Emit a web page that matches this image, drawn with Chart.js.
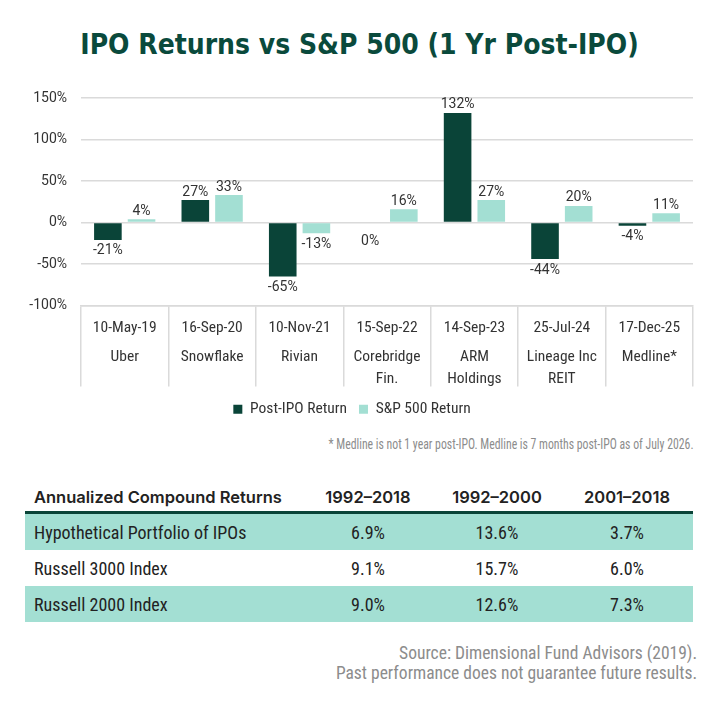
<!DOCTYPE html>
<html>
<head>
<meta charset="utf-8">
<script src="https://cdn.jsdelivr.net/npm/chart.js@4.4.1/dist/chart.umd.min.js"></script>
<style>
  body{margin:0;background:#fff;width:719px;height:722px;position:relative;overflow:hidden;
    font-family:"Roboto Condensed","Liberation Sans Narrow","DejaVu Sans Condensed",sans-serif;color:#222;}
  #title{position:absolute;top:27px;left:0;width:719px;text-align:center;white-space:nowrap;
    font:bold 29px "DejaVu Sans Condensed",sans-serif;color:#0a4a3c;transform:scaleX(0.965);}
  #wrap{position:absolute;top:85px;left:0;width:719px;height:342px;}
  #note{position:absolute;top:436px;right:26px;font-size:14px;color:#8c8c8c;white-space:nowrap;
    transform:scaleX(0.84);transform-origin:right center;}
  #tbl{position:absolute;top:483px;left:25px;width:668px;border-collapse:collapse;table-layout:fixed;}
  #tbl th{font:600 16.5px Inter,sans-serif;color:#222;height:28px;padding:0;text-align:center;
    border-bottom:3px solid #0a4438;white-space:nowrap;}
  #tbl th:first-child,#tbl td:first-child{text-align:left;padding-left:9px;}
  #tbl td{height:36px;padding:0;text-align:center;font-size:18px;color:#222;white-space:nowrap;}
  #tbl tr.alt td{background:#a3dfd3;}
  #src{position:absolute;top:643px;right:22px;text-align:right;font-size:17.5px;line-height:20px;color:#8c8c8c;}
</style>
</head>
<body>
<div id="title">IPO Returns vs S&amp;P 500 (1 Yr Post-IPO)</div>
<div id="wrap"><canvas id="chart"></canvas></div>
<div id="note">* Medline is not 1 year post-IPO. Medline is 7 months post-IPO as of July 2026.</div>
<table id="tbl">
  <colgroup><col style="width:278px"><col style="width:130px"><col style="width:128px"><col style="width:132px"></colgroup>
  <thead><tr></tr></thead><tbody></tbody>
</table>
<div id="src">Source: Dimensional Fund Advisors (2019).<br>Past performance does not guarantee future results.</div>

<script>
// chart data
const ipoDates = ["10-May-19", "16-Sep-20", "10-Nov-21", "15-Sep-22", "14-Sep-23", "25-Jul-24", "17-Dec-25"];
const ipoNames = [["Uber"], ["Snowflake"], ["Rivian"], ["Corebridge", "Fin."], ["ARM", "Holdings"], ["Lineage Inc", "REIT"], ["Medline*"]];
const postIpoReturn = [-21, 27, -65, 0, 132, -44, -4];
const sp500Return = [4, 33, -13, 16, 27, 20, 11];
const yTicks = [-100, -50, 0, 50, 100, 150];

// table data
const tableHeader = ["Annualized Compound Returns", "1992\u20132018", "1992\u20132000", "2001\u20132018"];
const tableRowNames = ["Hypothetical Portfolio of IPOs", "Russell 3000 Index", "Russell 2000 Index"];
const tableCol1 = ["6.9%", "9.1%", "9.0%"];
const tableCol2 = ["13.6%", "15.7%", "12.6%"];
const tableCol3 = ["3.7%", "6.0%", "7.3%"];

const DARK = "#0a4438";
const TEAL = "#a3dfd3";
const TXT = "#333333";
const GRID = "#dadada";
const NARROW = '"Roboto Condensed","Liberation Sans Narrow","DejaVu Sans Condensed",sans-serif';
const REG = 'Roboto,"Liberation Sans",sans-serif';

// build the table
const headRow = document.querySelector("#tbl thead tr");
tableHeader.forEach(h => {
  const th = document.createElement("th");
  th.textContent = h;
  headRow.appendChild(th);
});
const tbody = document.querySelector("#tbl tbody");
tableRowNames.forEach((name, i) => {
  const tr = document.createElement("tr");
  if (i % 2 === 0) tr.className = "alt";
  [name, tableCol1[i], tableCol2[i], tableCol3[i]].forEach(v => {
    const td = document.createElement("td");
    td.textContent = v;
    tr.appendChild(td);
  });
  tbody.appendChild(tr);
});

// value labels at the end of each bar
const barLabels = {
  id: "barLabels",
  afterDatasetsDraw(chart){
    const ctx = chart.ctx;
    ctx.save();
    ctx.font = "14px " + REG;
    ctx.fillStyle = TXT;
    ctx.textAlign = "center";
    ctx.textBaseline = "middle";
    chart.data.datasets.forEach((ds, di) => {
      chart.getDatasetMeta(di).data.forEach((bar, i) => {
        const v = ds.data[i];
        const y = v > 0 ? bar.y - 8 : bar.y + (v === 0 ? 19 : 11);
        ctx.fillText(v + "%", bar.x, y);
      });
    });
    ctx.restore();
  }
};

new Chart(document.getElementById("chart"), {
  type: "bar",
  data: {
    labels: ipoDates,
    datasets: [
      { label: "Post-IPO Return", data: postIpoReturn, backgroundColor: DARK,
        categoryPercentage: 0.77, barPercentage: 0.82 },
      { label: "S&P 500 Return", data: sp500Return, backgroundColor: TEAL,
        categoryPercentage: 0.77, barPercentage: 0.82 }
    ]
  },
  options: {
    responsive: true,
    maintainAspectRatio: false,
    animation: false,
    layout: { padding: { top: 13, left: 11, right: 26, bottom: 0 } },
    scales: {
      y: {
        min: -100, max: 150,
        afterBuildTicks: s => { s.ticks = yTicks.map(v => ({ value: v })); },
        afterFit: s => { s.width = 70; },
        ticks: { callback: v => v + "%", color: TXT, padding: 0, font: { family: REG, size: 14 } },
        grid: { color: GRID, lineWidth: 1.5, drawTicks: true, tickLength: 14, tickColor: "rgba(0,0,0,0)" },
        border: { display: false }
      },
      x: {
        weight: 0,
        afterFit: s => { s.height = 36; },
        grid: { offset: true, drawOnChartArea: false, drawTicks: true, tickLength: 81, color: GRID, lineWidth: 1.5 },
        border: { display: true, color: GRID, width: 1.5 },
        ticks: { color: TXT, padding: -68, autoSkip: false, maxRotation: 0, font: { family: NARROW, size: 15.5 } }
      },
      names: {
        type: "category",
        position: "bottom",
        labels: ipoNames,
        offset: true,
        weight: 1,
        afterFit: s => { s.height = 48; },
        grid: { display: false, drawTicks: false },
        border: { display: false },
        ticks: { color: TXT, padding: 5, autoSkip: false, maxRotation: 0,
          font: { family: NARROW, size: 15.5, lineHeight: "22px" } }
      }
    },
    plugins: {
      legend: {
        position: "bottom",
        labels: { boxWidth: 9, boxHeight: 9, color: TXT, padding: 12, font: { family: NARROW, size: 15.5 } }
      },
      tooltip: { enabled: false }
    }
  },
  plugins: [barLabels]
});
</script>
</body>
</html>
